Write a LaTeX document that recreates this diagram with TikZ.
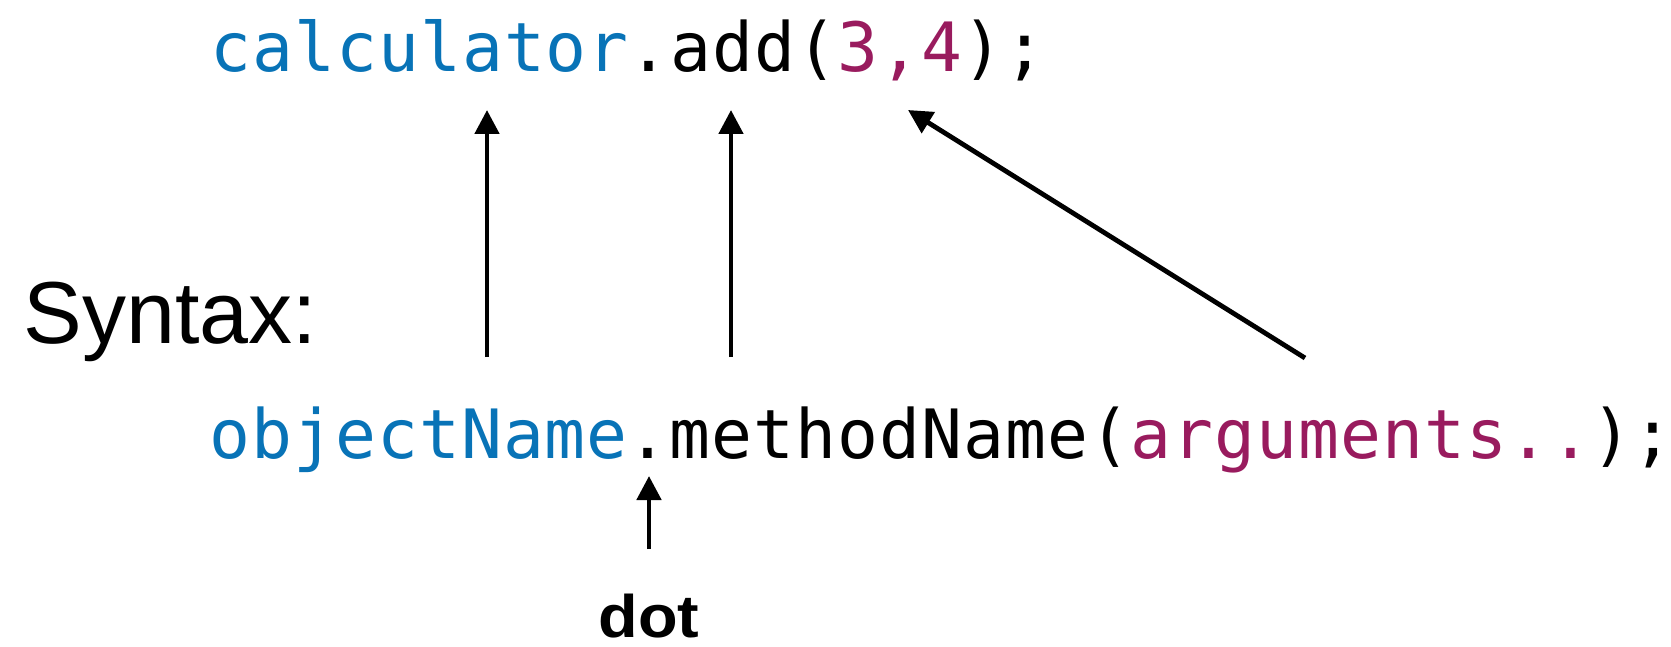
\documentclass[tikz,border=0pt]{standalone}
\usepackage{fontspec}
\setmainfont{Liberation Sans}
\newfontfamily\codefont[LetterSpace=1.5]{DejaVu Sans Mono}
\usetikzlibrary{arrows.meta}
\definecolor{cblue}{RGB}{8,115,183}
\definecolor{cpurple}{RGB}{153,27,94}
\tikzset{
  code/.style={inner sep=0pt, anchor=base west, font=\codefont\fontsize{34pt}{40pt}\selectfont},
  label/.style={inner sep=0pt, anchor=base west, font=\fontsize{44pt}{50pt}\selectfont},
  boldlabel/.style={inner sep=0pt, anchor=base west, xscale=1.08, font=\bfseries\fontsize{30pt}{34pt}\selectfont},
  arr/.style={line width=2.4pt, -{Triangle[length=12pt,width=12pt]}}
}
\begin{document}
\begin{tikzpicture}[x=0.5pt,y=-0.5pt]
\path[use as bounding box] (0,0) rectangle (1671,647);
\node[code] (call) at (210,72) {\textcolor{cblue}{calculator}.add(\textcolor{cpurple}{3,4});};
\node[code] (syn) at (209,458) {\textcolor{cblue}{objectName}.methodName(\textcolor{cpurple}{arguments..});};
\node[label] (syntax) at (23,343) {Syntax:};
\node[boldlabel] (dot) at (598,637) {dot};
\coordinate (a1s) at (487,357);
\coordinate (a1e) at (487,110);
\coordinate (a2s) at (731,357);
\coordinate (a2e) at (731,110);
\coordinate (a3s) at (1305,358);
\coordinate (a3e) at (908,110);
\coordinate (a4s) at (649,549);
\coordinate (a4e) at (649,476);
\draw[arr] (a1s) -- (a1e);
\draw[arr] (a2s) -- (a2e);
\draw[arr] (a3s) -- (a3e);
\draw[arr] (a4s) -- (a4e);
\end{tikzpicture}
\end{document}
